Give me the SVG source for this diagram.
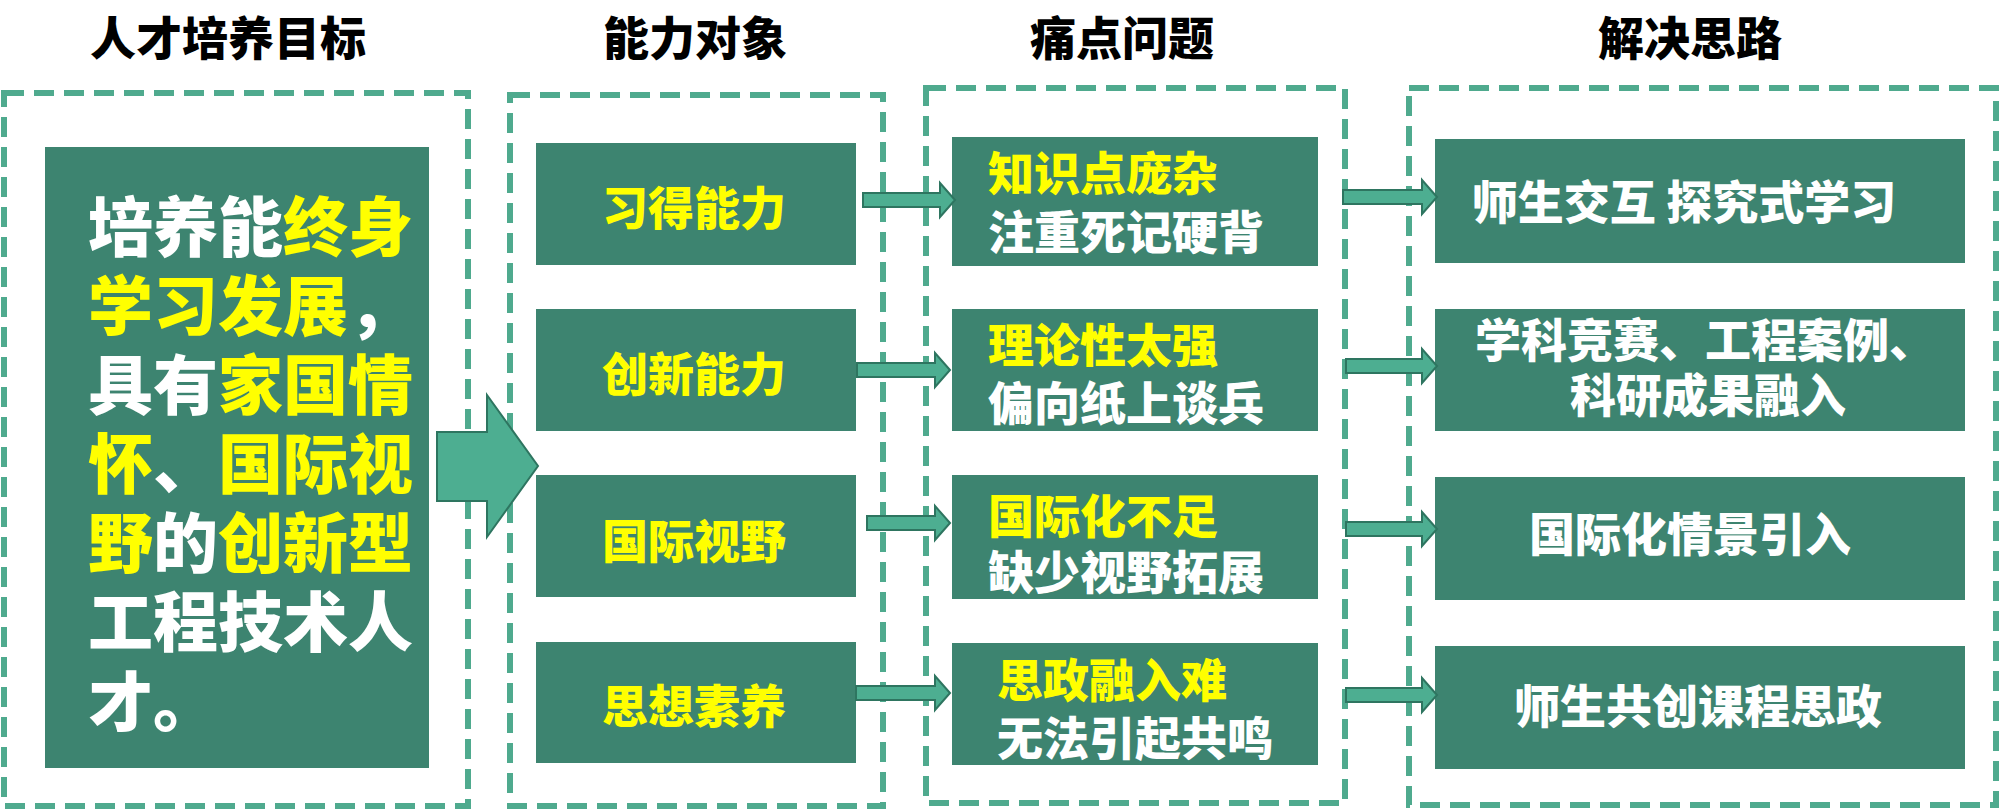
<svg xmlns="http://www.w3.org/2000/svg" width="2000" height="811" viewBox="0 0 2000 811">
<style>
  .frame { fill: none; stroke: #4FAA8E; stroke-width: 6; stroke-dasharray: 20 10; }
  .box { fill: #3D8470; }
  .hdr { font-family: "Noto Sans CJK SC", "Noto Sans", sans-serif; font-weight: 900; font-size: 46px; fill: #000; text-anchor: middle; dominant-baseline: central; }
  .t { font-family: "Noto Sans CJK SC", "Noto Sans", sans-serif; font-weight: 900; font-size: 46px; dominant-baseline: central; }
  .big { font-family: "Noto Sans CJK SC", "Noto Sans", sans-serif; font-weight: 900; font-size: 65px; dominant-baseline: central; fill: #FFFFFF; }
  .y { fill: #FFFF00; }
  .w { fill: #FFFFFF; }
  .mid { text-anchor: middle; }
  .arr { fill: #4DAE91; stroke: #2E7560; stroke-width: 2; }
</style>

<g id="headers">
  <text class="hdr" x="228" y="35">人才培养目标</text>
  <text class="hdr" x="695" y="35">能力对象</text>
  <text class="hdr" x="1122" y="35">痛点问题</text>
  <text class="hdr" x="1690" y="35">解决思路</text>
</g>

<g id="frames">
  <rect class="frame" x="4" y="93" width="464" height="713"/>
  <rect class="frame" x="510" y="95" width="373" height="711"/>
  <rect class="frame" x="926" y="88" width="419" height="715"/>
  <rect class="frame" x="1409" y="88" width="587" height="717"/>
</g>

<g id="goal">
  <rect class="box" x="45" y="147" width="384" height="621"/>
  <text class="big" x="88" y="223"><tspan class="w">培养能</tspan><tspan class="y">终身</tspan></text>
  <text class="big" x="88" y="302"><tspan class="y">学习发展</tspan><tspan class="w">，</tspan></text>
  <text class="big" x="88" y="381"><tspan class="w">具有</tspan><tspan class="y">家国情</tspan></text>
  <text class="big" x="88" y="460"><tspan class="y">怀</tspan><tspan class="w">、</tspan><tspan class="y">国际视</tspan></text>
  <text class="big" x="88" y="539"><tspan class="y">野</tspan><tspan class="w">的</tspan><tspan class="y">创新型</tspan></text>
  <text class="big" x="88" y="618">工程技术人</text>
  <text class="big" x="88" y="698">才。</text>
</g>

<g id="ability-1"><rect class="box" x="536" y="143" width="320" height="122"/><text class="t y mid" x="694" y="205">习得能力</text></g>
<g id="ability-2"><rect class="box" x="536" y="309" width="320" height="122"/><text class="t y mid" x="694" y="371">创新能力</text></g>
<g id="ability-3"><rect class="box" x="536" y="475" width="320" height="122"/><text class="t y mid" x="694" y="538">国际视野</text></g>
<g id="ability-4"><rect class="box" x="536" y="642" width="320" height="121"/><text class="t y mid" x="694" y="703">思想素养</text></g>

<g id="problem-1"><rect class="box" x="952" y="137" width="366" height="129"/>
  <text class="t y" x="988" y="170">知识点庞杂</text><text class="t w" x="988" y="229">注重死记硬背</text></g>
<g id="problem-2"><rect class="box" x="952" y="309" width="366" height="122"/>
  <text class="t y" x="988" y="342">理论性太强</text><text class="t w" x="988" y="400">偏向纸上谈兵</text></g>
<g id="problem-3"><rect class="box" x="952" y="475" width="366" height="124"/>
  <text class="t y" x="988" y="513">国际化不足</text><text class="t w" x="988" y="569">缺少视野拓展</text></g>
<g id="problem-4"><rect class="box" x="952" y="643" width="366" height="122"/>
  <text class="t y" x="997" y="677">思政融入难</text><text class="t w" x="997" y="735">无法引起共鸣</text></g>

<g id="solution-1"><rect class="box" x="1435" y="139" width="530" height="124"/>
  <text class="t w mid" x="1684" y="199">师生交互 探究式学习</text></g>
<g id="solution-2"><rect class="box" x="1435" y="309" width="530" height="122"/>
  <text class="t w mid" x="1705" y="337">学科竞赛、工程案例、</text><text class="t w mid" x="1708" y="392">科研成果融入</text></g>
<g id="solution-3"><rect class="box" x="1435" y="477" width="530" height="123"/>
  <text class="t w mid" x="1690" y="531">国际化情景引入</text></g>
<g id="solution-4"><rect class="box" x="1435" y="646" width="530" height="123"/>
  <text class="t w mid" x="1698" y="703">师生共创课程思政</text></g>

<g id="connectors">
  <polygon class="arr" points="437,432 487,432 487,395 538,466 487,537 487,501 437,501"/>
  <polygon class="arr" points="863,193 940,193 940,183 955,200 940,217 940,207 863,207"/>
  <polygon class="arr" points="857,363 935,363 935,353 950,370 935,387 935,377 857,377"/>
  <polygon class="arr" points="867,516 935,516 935,506 950,523 935,540 935,530 867,530"/>
  <polygon class="arr" points="856,686 935,686 935,676 950,693 935,710 935,700 856,700"/>
  <polygon class="arr" points="1343,190 1422,190 1422,180 1437,197 1422,214 1422,204 1343,204"/>
  <polygon class="arr" points="1346,359 1422,359 1422,349 1437,366 1422,383 1422,373 1346,373"/>
  <polygon class="arr" points="1346,522 1422,522 1422,512 1437,529 1422,546 1422,536 1346,536"/>
  <polygon class="arr" points="1346,688 1422,688 1422,678 1437,695 1422,712 1422,702 1346,702"/>
</g>
</svg>
